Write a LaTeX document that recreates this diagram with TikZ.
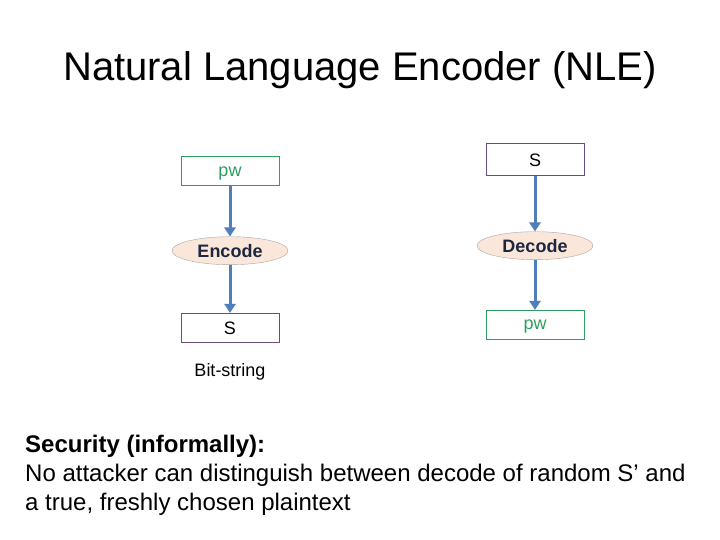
\documentclass[tikz,border=0pt]{standalone}
\usepackage{fontspec}
\setmainfont{Liberation Sans}
\usetikzlibrary{shapes, arrows.meta, positioning}
\usepackage{xcolor}

\definecolor{pwgreen}{HTML}{2E9E60}
\definecolor{boxpurple}{HTML}{6A4C7E}
\definecolor{arrowblue}{HTML}{4F7FBA}
\definecolor{ovalfill}{HTML}{FBE7DA}
\definecolor{ovaltext}{HTML}{1C2640}

\begin{document}
\begin{tikzpicture}[
    x=1pt, y=1pt,
    every node/.style={font=\fontsize{18}{21}\selectfont},
    pwbox/.style={rectangle, draw=pwgreen, text=pwgreen, line width=1pt,
                text height=9.4pt, text depth=0pt,
                minimum width=98pt, minimum height=29pt, inner sep=0pt},
    sbox/.style={rectangle, draw=boxpurple, line width=1pt,
                minimum width=98pt, minimum height=29pt, inner sep=0pt},
    oval/.style={ellipse, draw=gray!70, fill=ovalfill, text=ovaltext,
                font=\fontsize{18}{21}\selectfont\bfseries,
                minimum width=116pt, minimum height=28pt, inner sep=0pt},
    arrow/.style={-{Triangle[length=9pt, width=11pt]}, draw=arrowblue, line width=3pt}
]
\useasboundingbox[fill=white] (0,0) rectangle (720,-540);

\node[font=\fontsize{40}{48}\selectfont] (title) at (360,-70) {Natural Language Encoder (NLE)};

% encoder side
\node[pwbox] (pwin) at (230,-171.5) {pw};
\node[oval, below=50pt of pwin] (enc) {Encode};
\node[sbox, below=48pt of enc] (sout) {S};
\node[below=17pt of sout] (bits) {Bit-string};
\draw[arrow] (pwin) -- (enc);
\draw[arrow] (enc) -- (sout);

% decoder side
\node[sbox, minimum height=32pt] (sin) at (535,-160) {S};
\node[oval, below=55pt of sin] (dec) {Decode};
\node[pwbox, below=50pt of dec] (pwout) {pw};
\draw[arrow] (sin) -- (dec);
\draw[arrow] (dec) -- (pwout);

\node[anchor=north west, align=left, inner sep=0pt,
      font=\fontsize{24}{29}\selectfont] (sec) at (25,-435)
  {\textbf{Security (informally):}\\
   No attacker can distinguish between decode of random S’ and\\
   a true, freshly chosen plaintext};
\end{tikzpicture}
\end{document}
